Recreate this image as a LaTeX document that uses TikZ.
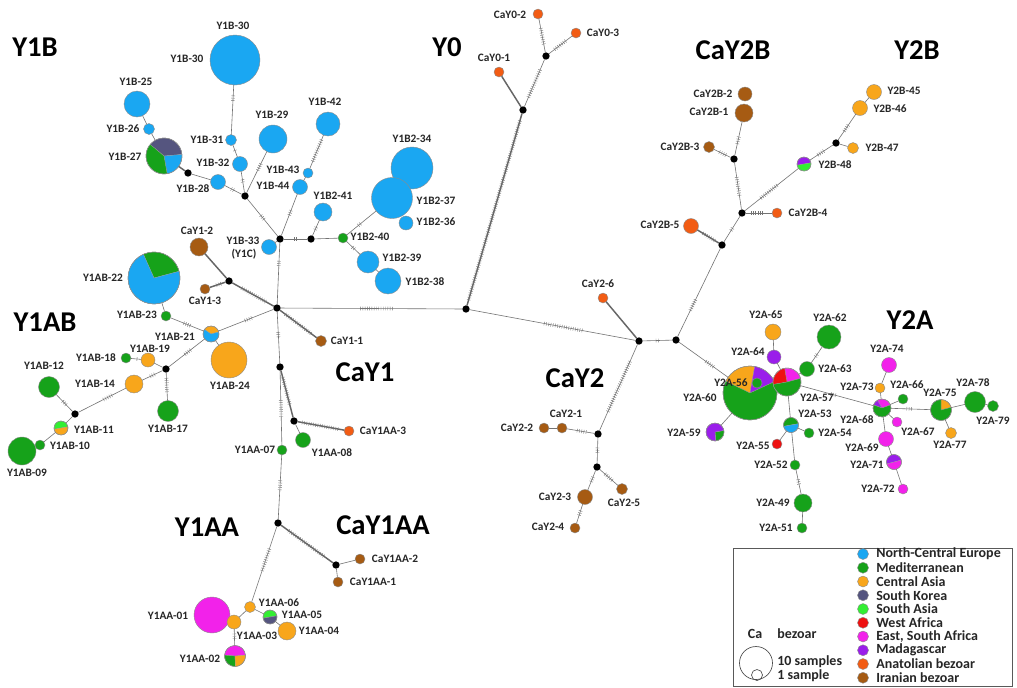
\documentclass[tikz,border=0pt]{standalone}
\usepackage{fontspec}
\setmainfont{Carlito}
\usetikzlibrary{decorations.markings}
\definecolor{cNCE}{HTML}{1AA7F2}
\definecolor{cMed}{HTML}{16A21A}
\definecolor{cCA}{HTML}{F8A61B}
\definecolor{cSK}{HTML}{55557F}
\definecolor{cSA}{HTML}{33EE33}
\definecolor{cWA}{HTML}{EE1111}
\definecolor{cESA}{HTML}{F222EA}
\definecolor{cMad}{HTML}{9A1EEA}
\definecolor{cAna}{HTML}{F25C14}
\definecolor{cIra}{HTML}{A65B13}
\tikzset{
 hapn/.style={circle, draw=black!45, line width=0.3pt, inner sep=0pt, outer sep=0pt},
 jn/.style={circle, fill=black, inner sep=0pt, outer sep=0pt, minimum size=5.5pt},
 lbl/.style={font=\bfseries\fontsize{8.5}{10}\selectfont, text=black!85, inner sep=0pt},
 ttl/.style={font=\bfseries\fontsize{21.5}{24}\selectfont, inner sep=0pt},
 leg/.style={font=\bfseries\fontsize{10.5}{12}\selectfont, text=black!85, inner sep=0pt},
 edge/.style={draw=black!55, line width=0.45pt},
 thk/.style={draw=black!60, line width=1.1pt},
 hatch/.style 2 args={postaction={decorate,decoration={markings,mark=between positions #1 and #2 step 1.7pt with {\draw[black!55,line width=0.3pt] (0pt,-1.4pt)--(0pt,1.4pt);}}}},
}
\newcommand\hap[4]{\node[hapn, fill=#4, minimum size=#3*1.5pt] (#1) at (#2) {};}
\newcommand\jnc[2]{\node[jn] (#1) at (#2) {};}
\newcommand\pien[4]{%
  \node[hapn, minimum size=#3*1.5pt] (#1) at (#2) {};
  \foreach \a/\b/\c in {#4}{\filldraw[fill=\c, draw=black!40, line width=0.2pt] (#1.center) -- ++(\a:#3*0.75pt) arc[start angle=\a, end angle=\b, radius=#3*0.75pt] -- cycle;}
  \draw[black!45, line width=0.3pt] (#1.center) circle[radius=#3*0.75pt];
}
\newcommand\lab[3]{\node[lbl] (l#1) at (#2) {#3};}
\begin{document}
\begin{tikzpicture}[x=0.75pt,y=-0.75pt]
\fill[white] (0,0) rectangle (1017,687);
\useasboundingbox (0,0) rectangle (1017,687);
% ---------- Y1B
\hap{y1b30}{235,60}{25}{cNCE}
\hap{y1b25}{137,104}{13}{cNCE}
\hap{y1b26}{149,129}{5.5}{cNCE}
\pien{y1b27}{164,156}{18}{5/140/cSK,-80/5/cNCE,140/280/cMed}
\jnc{b0}{188,173}
\hap{y1b28}{218,182}{7.5}{cNCE}
\hap{y1b31}{231,140}{5.5}{cNCE}
\hap{y1b32}{240,164}{7.5}{cNCE}
\jnc{b1}{245,196}
\hap{y1b29}{273,139}{14}{cNCE}
\hap{y1b42}{328,124}{12}{cNCE}
\hap{y1b43}{308,173}{5}{cNCE}
\hap{y1b44}{300,187}{7.5}{cNCE}
\jnc{h1}{280,239}
\hap{y1b33}{269,247}{7.5}{cNCE}
\jnc{b2}{311,239}
\hap{y1b241}{323,212}{9}{cNCE}
\hap{y1b240}{343,238}{5}{cMed}
\hap{y1b234}{412,168}{21}{cNCE}
\hap{y1b237}{392,198}{20.5}{cNCE}
\hap{y1b236}{406,223}{7}{cNCE}
\hap{y1b239}{368,262}{11}{cNCE}
\hap{y1b238}{388,281}{13}{cNCE}
\jnc{hY1}{277,308}
\hap{cay12}{199,247}{9}{cIra}
\jnc{b3}{229,281}
\hap{cay13}{205,289}{5}{cIra}
\hap{cay11}{321,341}{5.5}{cIra}
\jnc{J}{466,309}
% ---------- Y0
\jnc{b9}{523,110}
\hap{cay01}{499,72}{5}{cAna}
\jnc{b10}{546,56}
\hap{cay02}{538,14}{5}{cAna}
\hap{cay03}{576,33}{5}{cAna}
% ---------- Y1AB
\pien{y1ab22}{154,278}{26}{15/114/cMed,114/375/cNCE}
\hap{y1ab23}{166,316}{5}{cMed}
\pien{y1ab21}{211,334}{8}{15/145/cCA,145/375/cNCE}
\hap{y1ab24}{229,360}{18}{cCA}
\hap{y1ab18}{126,358}{5}{cMed}
\hap{y1ab19}{148,360}{7}{cCA}
\jnc{b7}{166,369}
\hap{y1ab14}{134,384}{9}{cCA}
\hap{y1ab17}{168,411}{10.5}{cMed}
\hap{y1ab12}{49,387}{10.5}{cMed}
\jnc{b8}{75,414}
\pien{y1ab11}{61,428}{7}{10/190/cSA,190/370/cCA}
\hap{y1ab10}{40,445}{5}{cMed}
\hap{y1ab09}{22,451}{14}{cMed}
% ---------- Y1AA
\jnc{b4}{280,367}
\jnc{b5}{294,421}
\hap{y1aa08}{303,440}{7.5}{cMed}
\hap{y1aa07}{282,450}{5}{cMed}
\hap{cay1aa3}{349,431}{5}{cAna}
\jnc{bAA}{278,523}
\jnc{b6}{336,565}
\hap{cay1aa2}{360,559}{5}{cIra}
\hap{cay1aa1}{338,582}{5}{cIra}
\hap{y1aa06}{250,607}{5.5}{cCA}
\hap{y1aa01}{212,615}{18}{cESA}
\hap{y1aa03}{234,622}{7}{cCA}
\pien{y1aa05}{270,617}{7}{10/190/cSA,190/370/cSK}
\hap{y1aa04}{287,631}{9}{cCA}
\pien{y1aa02}{235,656}{10.5}{5/175/cESA,175/272/cMed,272/365/cCA}
% ---------- Y2
\jnc{bY2}{639,341}
\hap{cay26}{603,298}{5}{cAna}
\jnc{b11}{676,340}
\jnc{b12}{598,434}
\hap{cay21}{562,428}{5}{cIra}
\hap{cay22}{544,428}{5}{cIra}
\jnc{b13}{597,467}
\hap{cay23}{585,497}{7.5}{cIra}
\hap{cay25}{622,489}{5.5}{cIra}
\hap{cay24}{575,528}{5}{cIra}
\jnc{b14}{722,245}
\hap{cay2b5}{691,226}{7.5}{cAna}
\jnc{b15}{742,213}
\hap{cay2b4}{777,213}{5}{cAna}
\jnc{b16}{734,159}
\hap{cay2b3}{709,147}{5.5}{cIra}
\hap{cay2b1}{744,113}{9}{cIra}
\hap{cay2b2}{745,94}{7}{cIra}
\pien{y2b48}{804,164}{7}{10/190/cMad,190/370/cSA}
\jnc{b17}{836,143}
\hap{y2b47}{853,148}{5.5}{cCA}
\hap{y2b46}{860,108}{7.5}{cCA}
\hap{y2b45}{874,92}{7.5}{cCA}
% ---------- Y2A
\pien{y2a60}{750,393}{27}{80/154/cCA,25/80/cMad,154/385/cMed}
\pien{y2a57}{787,382}{14}{15/100/cESA,100/190/cWA,190/375/cMed}
\hap{y2a56}{757,383}{5}{cMed}
\hap{y2a65}{773,332}{8}{cCA}
\hap{y2a64}{774,357}{7}{cMad}
\hap{y2a62}{829,337}{12}{cMed}
\hap{y2a63}{807,369}{7.5}{cMed}
\pien{y2a53}{791,425}{7.5}{10/190/cMed,190/370/cNCE}
\hap{y2a54}{809,433}{5}{cMed}
\hap{y2a55}{777,444}{5}{cWA}
\pien{y2a59}{715,432}{9}{-85/10/cMed,10/275/cMad}
\hap{y2a52}{795,465}{5}{cMed}
\hap{y2a49}{803,503}{9}{cMed}
\hap{y2a51}{802,528}{5}{cMed}
\pien{y2a68}{882,408}{9}{20/120/cESA,120/160/cMad,160/380/cMed}
\hap{y2a73}{880,388}{5}{cCA}
\hap{y2a74}{889,365}{7.5}{cESA}
\hap{y2a66}{903,399}{5}{cMed}
\hap{y2a67}{897,422}{5}{cESA}
\hap{y2a69}{886,439}{7.5}{cESA}
\pien{y2a71}{894,462}{7.5}{15/195/cMad,195/375/cESA}
\hap{y2a72}{903,489}{5}{cESA}
\pien{y2a75}{941,410}{10.5}{15/90/cCA,90/375/cMed}
\hap{y2a78}{975,402}{10.5}{cMed}
\hap{y2a79}{993,406}{5.5}{cMed}
\hap{y2a77}{951,433}{5.5}{cCA}
% ---------- edges Y1B
\draw[edge,hatch={0.22}{0.34}] (y1b30) -- (y1b31);
\draw[edge,hatch={0.45}{0.6}] (y1b31) -- (y1b32);
\draw[edge,hatch={0.4}{0.6}] (y1b32) -- (b1);
\draw[edge] (y1b25) -- (y1b26);
\draw[edge] (y1b26) -- (y1b27);
\draw[thk] (y1b27) -- (b0);
\draw[edge] (b0) -- (y1b28);
\draw[edge,hatch={0.4}{0.55}] (y1b28) -- (b1);
\draw[edge,hatch={0.3}{0.45}] (y1b29) -- (b1);
\draw[edge,hatch={0.45}{0.55}] (b1) -- (h1);
\draw[edge,hatch={0.15}{0.8}] (y1b42) -- (y1b43);
\draw[edge] (y1b43) -- (y1b44);
\draw[edge,hatch={0.4}{0.55}] (y1b44) -- (h1);
\draw[edge] (h1) -- (y1b33);
\draw[edge,hatch={0.45}{0.55}] (h1) -- (b2);
\draw[edge,hatch={0.4}{0.55}] (b2) -- (y1b241);
\draw[edge] (b2) -- (y1b240);
\draw[edge,hatch={0.4}{0.5}] (y1b240) -- (y1b237);
\draw[edge,hatch={0.45}{0.6}] (y1b240) -- (y1b239);
\draw[edge] (y1b239) -- (y1b238);
\draw[edge,hatch={0.3}{0.4}] (h1) -- (hY1);
\draw[thk,hatch={0.2}{0.8}] (hY1) -- (b3);
\draw[thk] (b3) -- (cay12);
\draw[thk,hatch={0.3}{0.7}] (b3) -- (cay13);
\draw[thk,hatch={0.15}{0.85}] (hY1) -- (cay11);
\draw[edge,hatch={0.4}{0.55}] (hY1) -- (y1ab21);
\draw[edge,hatch={0.44}{0.62}] (hY1) -- (J);
% ---------- edges Y1AB
\draw[edge] (y1ab22) -- (y1ab23);
\draw[edge,hatch={0.4}{0.6}] (y1ab23) -- (y1ab21);
\draw[edge] (y1ab21) -- (y1ab24);
\draw[edge,hatch={0.4}{0.6}] (y1ab21) -- (b7);
\draw[edge] (b7) -- (y1ab19);
\draw[edge,hatch={0.4}{0.6}] (y1ab19) -- (y1ab18);
\draw[edge,hatch={0.2}{0.7}] (b7) -- (y1ab17);
\draw[edge,hatch={0.4}{0.6}] (b7) -- (y1ab14);
\draw[edge,hatch={0.3}{0.5}] (y1ab14) -- (b8);
\draw[edge,hatch={0.4}{0.6}] (b8) -- (y1ab12);
\draw[edge] (b8) -- (y1ab11);
\draw[edge] (y1ab11) -- (y1ab10);
\draw[edge] (y1ab10) -- (y1ab09);
% ---------- edges Y1AA
\draw[edge,hatch={0.4}{0.5}] (hY1) -- (b4);
\draw[thk,hatch={0.15}{0.75}] (b4) -- (b5);
\draw[thk,hatch={0.1}{0.9}] (b5) -- (cay1aa3);
\draw[edge] (b5) -- (y1aa08);
\draw[edge,hatch={0.4}{0.62}] (b4) -- (y1aa07);
\draw[edge,hatch={0.4}{0.55}] (y1aa07) -- (bAA);
\draw[thk,hatch={0.15}{0.85}] (bAA) -- (b6);
\draw[edge] (b6) -- (cay1aa2);
\draw[edge] (b6) -- (cay1aa1);
\draw[edge,hatch={0.3}{0.6}] (bAA) -- (y1aa06);
\draw[edge] (y1aa06) -- (y1aa03);
\draw[edge] (y1aa06) -- (y1aa05);
\draw[edge] (y1aa05) -- (y1aa04);
\draw[edge,hatch={0.3}{0.7}] (y1aa03) -- (y1aa02);
% ---------- edges Y0
\draw[thk,hatch={0.03}{0.97}] (J) -- (b9);
\draw[thk] (b9) -- (cay01);
\draw[edge,hatch={0.2}{0.8}] (b9) -- (b10);
\draw[edge,hatch={0.25}{0.75}] (b10) -- (cay02);
\draw[edge,hatch={0.25}{0.75}] (b10) -- (cay03);
% ---------- edges Y2
\draw[edge,hatch={0.45}{0.68}] (J) -- (bY2);
\draw[thk] (bY2) -- (cay26);
\draw[edge,hatch={0.45}{0.55}] (bY2) -- (b11);
\draw[edge,hatch={0.2}{0.8}] (bY2) -- (b12);
\draw[edge,hatch={0.3}{0.7}] (b12) -- (cay21);
\draw[edge] (cay21) -- (cay22);
\draw[edge,hatch={0.4}{0.6}] (b12) -- (b13);
\draw[edge,hatch={0.35}{0.6}] (b13) -- (cay23);
\draw[edge,hatch={0.35}{0.65}] (cay23) -- (cay24);
\draw[edge,hatch={0.3}{0.7}] (b13) -- (cay25);
\draw[edge,hatch={0.3}{0.42}] (b11) -- (b14);
\draw[thk,hatch={0.2}{0.8}] (b14) -- (cay2b5);
\draw[edge,hatch={0.45}{0.55}] (b14) -- (b15);
\draw[edge,hatch={0.2}{0.7}] (b15) -- (cay2b4);
\draw[edge,hatch={0.3}{0.7}] (b15) -- (b16);
\draw[edge,hatch={0.3}{0.7}] (b16) -- (cay2b3);
\draw[edge,hatch={0.35}{0.55}] (b16) -- (cay2b1);
\draw[edge,hatch={0.3}{0.6}] (b15) -- (y2b48);
\draw[edge,hatch={0.35}{0.65}] (y2b48) -- (b17);
\draw[edge] (b17) -- (y2b47);
\draw[edge,hatch={0.35}{0.6}] (b17) -- (y2b46);
\draw[edge] (y2b46) -- (y2b45);
% ---------- edges Y2A
\draw[edge,hatch={0.55}{0.72}] (b11) -- (y2a60);
\draw[edge] (y2a60) -- (y2a59);
\draw[edge] (y2a57) -- (y2a64);
\draw[edge] (y2a64) -- (y2a65);
\draw[edge] (y2a57) -- (y2a63);
\draw[edge,hatch={0.4}{0.6}] (y2a63) -- (y2a62);
\draw[edge] (y2a57) -- (y2a53);
\draw[edge] (y2a53) -- (y2a54);
\draw[edge] (y2a53) -- (y2a55);
\draw[edge] (y2a53) -- (y2a52);
\draw[edge,hatch={0.4}{0.6}] (y2a52) -- (y2a49);
\draw[edge] (y2a49) -- (y2a51);
\draw[edge,hatch={0.42}{0.5}] (y2a57) -- (y2a68);
\draw[edge] (y2a68) -- (y2a73);
\draw[edge] (y2a73) -- (y2a74);
\draw[edge] (y2a68) -- (y2a66);
\draw[edge] (y2a68) -- (y2a67);
\draw[edge] (y2a68) -- (y2a69);
\draw[edge] (y2a69) -- (y2a71);
\draw[edge] (y2a71) -- (y2a72);
\draw[edge,hatch={0.4}{0.55}] (y2a68) -- (y2a75);
\draw[edge] (y2a75) -- (y2a78);
\draw[edge] (y2a78) -- (y2a79);
\draw[edge] (y2a75) -- (y2a77);
% ---------- titles
\node[ttl] (tY1B) at (35,47) {Y1B};
\node[ttl] (tY0) at (447,47) {Y0};
\node[ttl] (tCaY2B) at (733,50) {CaY2B};
\node[ttl] (tY2B) at (917,50) {Y2B};
\node[ttl] (tY1AB) at (45,322) {Y1AB};
\node[ttl] (tCaY1) at (365,372) {CaY1};
\node[ttl] (tCaY2) at (575,378) {CaY2};
\node[ttl] (tY2A) at (910,320) {Y2A};
\node[ttl] (tY1AA) at (207,527) {Y1AA};
\node[ttl] (tCaY1AA) at (383,525) {CaY1AA};
% ---------- labels
\lab{y1b30a}{233,26}{Y1B-30}
\lab{y1b30b}{187,59}{Y1B-30}
\lab{y1b25}{136,82}{Y1B-25}
\lab{y1b26}{123,129}{Y1B-26}
\lab{y1b27}{125,157}{Y1B-27}
\lab{y1b28}{193,189}{Y1B-28}
\lab{y1b31}{207,140}{Y1B-31}
\lab{y1b32}{213,163}{Y1B-32}
\lab{y1b29}{272,115}{Y1B-29}
\lab{y1b42}{325,102}{Y1B-42}
\lab{y1b43}{283,170}{Y1B-43}
\lab{y1b44}{273,186}{Y1B-44}
\lab{y1b241}{333,196}{Y1B2-41}
\lab{y1b240}{370,237}{Y1B2-40}
\lab{y1b237}{436,201}{Y1B2-37}
\lab{y1b234}{412,139}{Y1B2-34}
\lab{y1b236}{436,222}{Y1B2-36}
\lab{y1b239}{402,258}{Y1B2-39}
\lab{y1b238}{425,282}{Y1B2-38}
\lab{y1b33}{243,241}{Y1B-33}
\lab{y1c}{244,254}{(Y1C)}
\lab{cay12}{197,231}{CaY1-2}
\lab{cay13}{205,301}{CaY1-3}
\lab{cay11}{347,341}{CaY1-1}
\lab{cay02}{510,15}{CaY0-2}
\lab{cay03}{603,33}{CaY0-3}
\lab{cay01}{494,58}{CaY0-1}
\lab{cay2b2}{713,94}{CaY2B-2}
\lab{cay2b1}{709,112}{CaY2B-1}
\lab{cay2b3}{680,147}{CaY2B-3}
\lab{cay2b4}{808,213}{CaY2B-4}
\lab{cay2b5}{660,225}{CaY2B-5}
\lab{y2b48}{835,165}{Y2B-48}
\lab{y2b47}{882,148}{Y2B-47}
\lab{y2b46}{890,109}{Y2B-46}
\lab{y2b45}{904,91}{Y2B-45}
\lab{cay26}{598,284}{CaY2-6}
\lab{cay21}{566,414}{CaY2-1}
\lab{cay22}{517,428}{CaY2-2}
\lab{cay1aa3}{383,431}{CaY1AA-3}
\lab{cay23}{555,497}{CaY2-3}
\lab{cay25}{624,503}{CaY2-5}
\lab{cay24}{548,527}{CaY2-4}
\lab{cay1aa2}{395,559}{CaY1AA-2}
\lab{cay1aa1}{373,582}{CaY1AA-1}
\lab{y1ab22}{103,278}{Y1AB-22}
\lab{y1ab23}{137,315}{Y1AB-23}
\lab{y1ab21}{175,337}{Y1AB-21}
\lab{y1ab24}{230,386}{Y1AB-24}
\lab{y1ab18}{96,358}{Y1AB-18}
\lab{y1ab19}{150,349}{Y1AB-19}
\lab{y1ab14}{95,384}{Y1AB-14}
\lab{y1ab17}{168,429}{Y1AB-17}
\lab{y1ab12}{44,366}{Y1AB-12}
\lab{y1ab11}{94,430}{Y1AB-11}
\lab{y1ab10}{70,446}{Y1AB-10}
\lab{y1ab09}{27,473}{Y1AB-09}
\lab{y1aa08}{332,453}{Y1AA-08}
\lab{y1aa07}{255,450}{Y1AA-07}
\lab{y1aa06}{279,603}{Y1AA-06}
\lab{y1aa01}{168,616}{Y1AA-01}
\lab{y1aa03}{257,636}{Y1AA-03}
\lab{y1aa05}{302,615}{Y1AA-05}
\lab{y1aa04}{319,631}{Y1AA-04}
\lab{y1aa02}{200,659}{Y1AA-02}
\lab{y2a65}{766,315}{Y2A-65}
\lab{y2a62}{830,318}{Y2A-62}
\lab{y2a64}{748,352}{Y2A-64}
\lab{y2a63}{835,369}{Y2A-63}
\lab{y2a60}{700,398}{Y2A-60}
\lab{y2a56}{731,383}{Y2A-56}
\lab{y2a57}{817,398}{Y2A-57}
\lab{y2a53}{815,414}{Y2A-53}
\lab{y2a54}{835,433}{Y2A-54}
\lab{y2a55}{753,446}{Y2A-55}
\lab{y2a59}{684,433}{Y2A-59}
\lab{y2a52}{771,465}{Y2A-52}
\lab{y2a68}{857,420}{Y2A-68}
\lab{y2a73}{857,387}{Y2A-73}
\lab{y2a74}{887,349}{Y2A-74}
\lab{y2a66}{907,385}{Y2A-66}
\lab{y2a67}{918,432}{Y2A-67}
\lab{y2a69}{862,448}{Y2A-69}
\lab{y2a71}{867,465}{Y2A-71}
\lab{y2a72}{878,489}{Y2A-72}
\lab{y2a75}{940,393}{Y2A-75}
\lab{y2a78}{973,383}{Y2A-78}
\lab{y2a79}{993,421}{Y2A-79}
\lab{y2a77}{950,445}{Y2A-77}
\lab{y2a49}{773,503}{Y2A-49}
\lab{y2a51}{776,528}{Y2A-51}
% ---------- legend
\draw[black!65, line width=0.7pt] (733,548) rectangle (1012,686);
\foreach \i/\c/\t in {0/cNCE/North-Central Europe,1/cMed/Mediterranean,2/cCA/Central Asia,3/cSK/South Korea,4/cSA/South Asia,5/cWA/West Africa,6/cESA/{East, South Africa},7/cMad/Madagascar,8/cAna/Anatolian bezoar,9/cIra/Iranian bezoar}{
  \node[hapn, fill=\c, minimum size=11*0.75pt] (ld\i) at (863,554+\i*13.75) {};
  \node[leg, anchor=west] (lt\i) at (876,554+\i*13.75) {\t};
}
\node[leg] (lca) at (755,634) {Ca};
\node[leg] (lbez) at (797,634) {bezoar};
\node[circle, draw=black!70, line width=0.5pt, inner sep=0pt, minimum size=33*0.75pt] (s10) at (756,663) {};
\node[circle, draw=black!70, line width=0.5pt, inner sep=0pt, minimum size=11*0.75pt] (s1) at (757,675) {};
\node[leg, anchor=west] (l10) at (777,662) {10 samples};
\node[leg, anchor=west] (l1) at (777,676) {1 sample};
\end{tikzpicture}
\end{document}
